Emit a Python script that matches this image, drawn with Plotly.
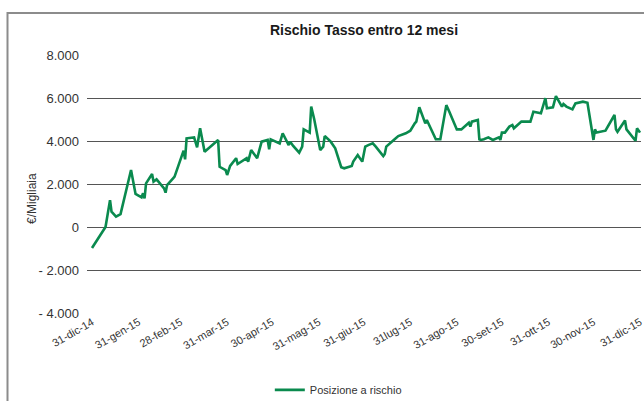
import plotly.graph_objects as go

dates = [
    "2014-12-31", "2015-01-09", "2015-01-12", "2015-01-13", "2015-01-16", "2015-01-19", "2015-01-26", "2015-01-29",
    "2015-02-02", "2015-02-03", "2015-02-04", "2015-02-05", "2015-02-09", "2015-02-10", "2015-02-12", "2015-02-16",
    "2015-02-17", "2015-02-18", "2015-02-19", "2015-02-23", "2015-02-24",
    "2015-03-02", "2015-03-03", "2015-03-04", "2015-03-09", "2015-03-11", "2015-03-13", "2015-03-16", "2015-03-25",
    "2015-03-26", "2015-03-30", "2015-03-31",
    "2015-04-02", "2015-04-06", "2015-04-07", "2015-04-13", "2015-04-14", "2015-04-16", "2015-04-20", "2015-04-21",
    "2015-04-23", "2015-04-27", "2015-04-28", "2015-04-29",
    "2015-05-04", "2015-05-05", "2015-05-07", "2015-05-11", "2015-05-12", "2015-05-14", "2015-05-18", "2015-05-20",
    "2015-05-21", "2015-05-25", "2015-05-26", "2015-05-28",
    "2015-06-01", "2015-06-03", "2015-06-04", "2015-06-08", "2015-06-11", "2015-06-15", "2015-06-17", "2015-06-22",
    "2015-06-23", "2015-06-25", "2015-06-26", "2015-06-29",
    "2015-07-01", "2015-07-03", "2015-07-06", "2015-07-08", "2015-07-13", "2015-07-14", "2015-07-15", "2015-07-20",
    "2015-07-23", "2015-07-28", "2015-07-31",
    "2015-08-03", "2015-08-04", "2015-08-06", "2015-08-10", "2015-08-11", "2015-08-13", "2015-08-17", "2015-08-20",
    "2015-08-24", "2015-08-26", "2015-08-31",
    "2015-09-03", "2015-09-08", "2015-09-09", "2015-09-10", "2015-09-14", "2015-09-15", "2015-09-16", "2015-09-18",
    "2015-09-21", "2015-09-22", "2015-09-24", "2015-09-28", "2015-09-29", "2015-09-30",
    "2015-10-02", "2015-10-05", "2015-10-07", "2015-10-08", "2015-10-12", "2015-10-13", "2015-10-19", "2015-10-21",
    "2015-10-26", "2015-10-29", "2015-10-30",
    "2015-11-03", "2015-11-05", "2015-11-09", "2015-11-10", "2015-11-12", "2015-11-16", "2015-11-17", "2015-11-18",
    "2015-11-23", "2015-11-26", "2015-11-30",
    "2015-12-01", "2015-12-02", "2015-12-08", "2015-12-14", "2015-12-15", "2015-12-16", "2015-12-21", "2015-12-22",
    "2015-12-24", "2015-12-28", "2015-12-29", "2015-12-31",
]

posizione = [
    -980, 0, 1250, 710, 480, 600, 2650, 1535,
    1380, 1566, 1333, 2030, 2465, 2107, 2218, 1875,
    1800, 1596, 1953, 2263, 2340,
    3550, 3147, 4125, 4170, 3706, 4590, 3500, 4046,
    2800, 2650, 2420,
    2840, 3200, 2930, 3200, 3040, 3580, 3200, 3460,
    3970, 4050, 3610, 4080,
    3920, 3890, 4360, 3810, 3970, 3770, 3460, 3740,
    4540, 4390, 5600, 5010,
    3580, 3740, 4230, 3970, 3660, 2780, 2730, 2840,
    3040, 3270, 3350, 3040,
    3740, 3810, 3890, 3740, 3300, 3400, 3740, 4050,
    4230, 4360, 4480,
    4820, 4900, 5570, 4820, 4980, 4700, 4080, 4080,
    5670, 5360, 4540,
    4540, 4850, 4670, 4900, 4980, 4080, 4050, 4080,
    4170, 4130, 4050, 4170, 4050, 4390,
    4390, 4670, 4740, 4590, 4820, 4900, 4900, 5360,
    5290, 5990, 5520,
    5570, 6090, 5600, 5720, 5600, 5470, 5630, 5750,
    5830, 5780, 4050,
    4540, 4390, 4480, 5210, 4540, 4430, 4950, 4540,
    4360, 4010, 4590, 4390,
]

x_tick_vals = ["2014-12-31", "2015-01-31", "2015-02-28", "2015-03-31", "2015-04-30", "2015-05-31", "2015-06-30",
               "2015-07-31", "2015-08-31", "2015-09-30", "2015-10-31", "2015-11-30", "2015-12-31"]
x_tick_text = ["31-dic-14", "31-gen-15", "28-feb-15", "31-mar-15", "30-apr-15", "31-mag-15", "31-giu-15",
               "31lug-15", "31-ago-15", "30-set-15", "31-ott-15", "30-nov-15", "31-dic-15"]

y_tick_vals = [-4000, -2000, 0, 2000, 4000, 6000, 8000]
y_tick_text = ["- 4.000", "- 2.000", "0", "2.000", "4.000", "6.000", "8.000"]

FONT = "Liberation Sans, Arial, sans-serif"
TXT = "#333333"

fig = go.Figure()
fig.add_trace(go.Scatter(
    x=dates, y=posizione, mode="lines", name="Posizione a rischio",
    line=dict(color="#0A8A4E", width=2.6),
))

fig.update_layout(
    width=644, height=401,
    margin=dict(l=87, r=3, t=55, b=88, autoexpand=False),
    paper_bgcolor="white", plot_bgcolor="white",
    font=dict(family=FONT, size=12, color=TXT),
    showlegend=True,
    legend=dict(orientation="h", x=0.33, y=-0.298, xanchor="left", yanchor="middle",
                font=dict(size=11, color=TXT), bgcolor="rgba(0,0,0,0)"),
    xaxis=dict(
        type="date", automargin=False,
        range=["2014-12-27 16:00:00", "2015-12-31 16:00:00"],
        tickvals=x_tick_vals, ticktext=x_tick_text,
        tickangle=-30, tickfont=dict(size=11, color=TXT),
        showgrid=False, showline=False, zeroline=False, ticks="",
        ticklabelstandoff=0,
    ),
    yaxis=dict(
        range=[-4000, 8000], automargin=False,
        tickvals=y_tick_vals, ticktext=y_tick_text,
        tickfont=dict(size=13, color=TXT),
        showgrid=True, gridcolor="#555555", gridwidth=1.2,
        zeroline=False, showline=False, ticks="",
        ticklabelstandoff=7,
    ),
    annotations=[
        dict(text="<b>Rischio Tasso entro 12 mesi</b>", xref="paper", yref="paper",
             x=0.5, y=1.0969, xanchor="center", yanchor="middle", showarrow=False,
             font=dict(size=14, color="#1a1a1a")),
        dict(text="€/Migliaia", xref="paper", yref="paper", x=-0.0993, y=0.4457,
             xanchor="center", yanchor="middle", textangle=-90, showarrow=False,
             font=dict(size=12, color=TXT)),
    ],
    shapes=[
        dict(type="rect", xref="paper", yref="paper", x0=-0.1435, x1=1.5, y0=-1.0, y1=1.1628,
             line=dict(color="#8c8c8c", width=2), layer="below"),
    ],
)

fig.write_html("out.html")
